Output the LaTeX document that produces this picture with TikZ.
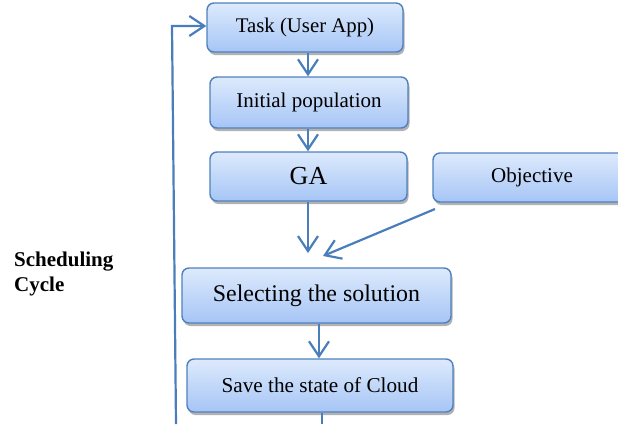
\documentclass[tikz,border=0pt]{standalone}
\usepackage{fontspec}
\setmainfont{Liberation Serif}
\usetikzlibrary{arrows.meta,shadows,calc}
\definecolor{boxline}{HTML}{4F81BD}
\definecolor{boxtop}{HTML}{DDEAFC}
\definecolor{boxbot}{HTML}{A6C5F6}
\definecolor{arrowblue}{HTML}{4A7EBB}
\tikzset{
  stepbox/.style={draw=boxline, line width=1.4pt, rounded corners=7pt,
    top color=boxtop, bottom color=boxbot, inner sep=0pt,
    drop shadow={shadow xshift=1.5pt, shadow yshift=-3pt, opacity=0.5, fill=black!60},
    text=black},
  flow/.style={draw=arrowblue, line width=2.2pt,
    -{Straight Barb[length=15pt,width=20pt,line width=2.2pt]}},
  plainline/.style={draw=arrowblue, line width=2.2pt},
}
\begin{document}
\begin{tikzpicture}[x=1pt,y=-1pt]
\useasboundingbox (0,0) rectangle (618,424);
\begin{scope}
\clip (0,0) rectangle (618,424);
% process boxes
\node[stepbox, minimum width=196pt, minimum height=49pt, font=\fontsize{20.8}{24}\selectfont] (task) at (305,27.5) {Task (User App)};
\node[stepbox, minimum width=198pt, minimum height=51pt, font=\fontsize{21}{24}\selectfont] (init) at (309,102.5) {Initial population};
\node[stepbox, minimum width=197pt, minimum height=49pt, font=\fontsize{26}{30}\selectfont] (ga) at (308.5,176.5) {GA};
\node[stepbox, minimum width=198pt, minimum height=49pt, font=\fontsize{21}{24}\selectfont] (obj) at (532,177.5) {Objective};
\node[stepbox, minimum width=269pt, minimum height=55pt, font=\fontsize{23.9}{27}\selectfont] (sel) at (316.5,295.5) {Selecting the solution};
\node[stepbox, minimum width=266pt, minimum height=53pt, font=\fontsize{21.2}{24}\selectfont] (save) at (320,385.5) {Save the state of Cloud};
% side label
\node[anchor=base west, align=left, inner sep=0pt, font=\bfseries\fontsize{21}{25}\selectfont] (label) at (14,291.7) {Scheduling\\Cycle};
% free ends of the connectors
\coordinate (gaend) at (308,253);
\coordinate (objend) at (323,256);
\coordinate (objstart) at (435,209);
\coordinate (loopbottom) at (176,424);
\coordinate (loopcorner) at (172,26);
\coordinate (saveout) at (322,424);
% connectors
\draw[flow] (task.south -| gaend) -- (init.north -| gaend);
\draw[flow] (init.south -| gaend) -- (ga.north -| gaend);
\draw[flow] (ga.south -| gaend) -- (gaend);
\draw[flow] (objstart) -- (objend);
\draw[flow] (319,0 |- sel.south) -- (319,0 |- save.north);
\draw[plainline] (save.south -| saveout) -- (saveout);
\draw[flow] (loopbottom) -- (loopcorner) -- (loopcorner -| task.west);
\end{scope}
\end{tikzpicture}
\end{document}
